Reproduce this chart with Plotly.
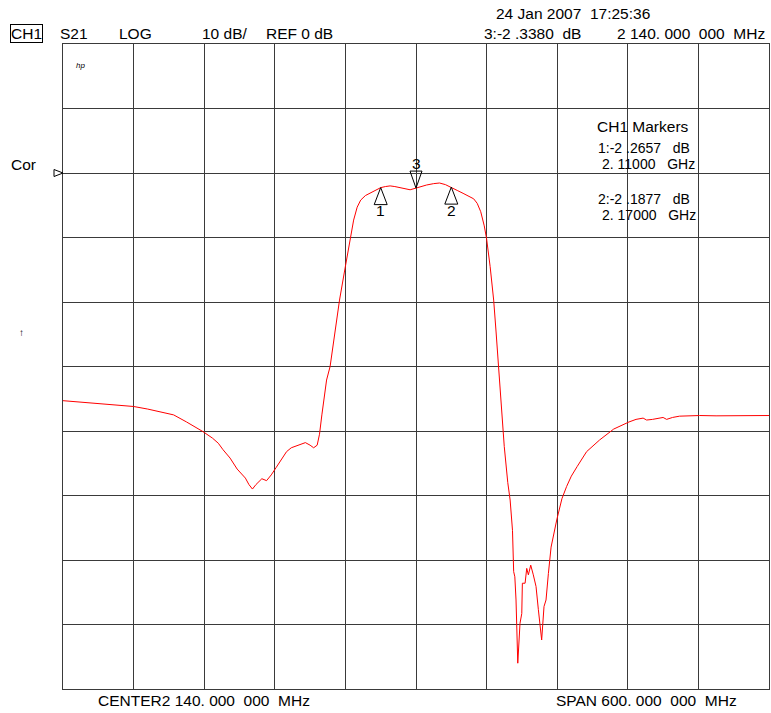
import plotly.graph_objects as go

# ---- data ----
freq_mhz = [1840, 1855, 1871, 1885, 1900, 1912, 1922, 1934, 1945, 1952, 1959, 1967, 1972, 1976,
            1982, 1988, 1995, 1998, 2001, 2004, 2009, 2013, 2017, 2021, 2026, 2030, 2034, 2039,
            2046, 2050, 2053, 2056, 2058, 2060, 2064, 2067, 2071, 2075, 2079, 2081, 2084, 2087,
            2090, 2093, 2097, 2101, 2105, 2110, 2114, 2118, 2122, 2126, 2131, 2135, 2140, 2145,
            2149, 2155, 2160, 2165, 2170, 2175, 2180, 2185, 2189, 2192, 2195, 2198, 2200, 2203,
            2206, 2208, 2210, 2212, 2215, 2218, 2220, 2222, 2223, 2224, 2225, 2226.5, 2228.4,
            2229.9, 2230.4, 2232.7, 2234.1, 2235.5, 2237.5, 2239.7, 2242, 2244, 2246.8, 2248.8,
            2250.5, 2252.5, 2254.8, 2259.6, 2262.4, 2264, 2268, 2272, 2277, 2285, 2296, 2308,
            2321, 2327, 2333, 2336, 2341, 2350, 2353, 2358, 2364, 2372, 2381, 2395, 2410, 2425, 2440]
s21_db = [-35.3, -35.5, -35.7, -35.9, -36.2, -36.6, -37.0, -37.5, -38.6, -39.3, -40.1, -41.1, -41.9, -42.9,
          -44.2, -45.9, -47.3, -48.3, -49.0, -48.3, -47.4, -47.7, -46.8, -45.7, -44.4, -43.2, -42.6, -42.3,
          -41.8, -42.2, -42.6, -42.2, -40.5, -37.5, -32.1, -30.0, -24.8, -19.7, -15.5, -13.5, -10.4, -7.3,
          -5.3, -4.2, -3.5, -3.1, -2.7, -2.27, -2.1, -2.0, -2.1, -2.25, -2.5, -2.6, -2.34, -2.05,
          -1.86, -1.65, -1.55, -1.8, -2.19, -2.7, -3.15, -3.6, -4.0, -4.7, -6.0, -8.2, -10.2, -14.5,
          -19.7, -24.5, -30.0, -34.0, -42.4, -48.0, -50.7, -55.4, -61.8, -62.6, -66.2, -76.0, -69.8,
          -68.3, -63.6, -63.6, -61.3, -62.3, -60.8, -62.3, -64.1, -67.7, -72.4, -67.2,
          -66.2, -62.1, -58.0, -53.8, -51.5, -50.5, -48.6, -47.0, -45.5, -43.2, -41.4, -39.7,
          -38.6, -38.2, -38.0, -38.3, -38.2, -37.9, -38.2, -37.9, -37.7, -37.6, -37.6, -37.65, -37.6, -37.6, -37.6]

marker_ids = ["1", "2", "3"]
marker_freq = [2110, 2170, 2140]
marker_db = [-2.2657, -2.1877, -2.3380]

center_mhz = 2140
span_mhz = 600
ref_db = 0
db_per_div = 10
ref_div_from_top = 2

x_min = center_mhz - span_mhz / 2
x_max = center_mhz + span_mhz / 2
y_max = ref_db + ref_div_from_top * db_per_div
y_min = y_max - 10 * db_per_div

W, H = 771, 713
L, R, T, B = 63, 2, 44, 24
PW, PH = W - L - R, H - T - B


def px(x):
    return (x - L) / PW


def py(y):
    return (H - B - y) / PH


FONT = "Liberation Sans, Arial, sans-serif"
FS = 15.5

fig = go.Figure()
fig.add_trace(go.Scatter(x=freq_mhz, y=s21_db, mode="lines",
                         line=dict(color="#ff0000", width=1), hoverinfo="skip"))

grid = dict(showgrid=True, gridcolor="#3a3a3a", gridwidth=1.4, zeroline=False,
            showticklabels=False, ticks="", showline=True, linecolor="#3a3a3a",
            linewidth=1.4, mirror=True)
fig.update_xaxes(range=[x_min, x_max], dtick=span_mhz / 10, tick0=x_min, **grid)
fig.update_yaxes(range=[y_min, y_max], dtick=db_per_div, tick0=y_min, **grid)

shapes = []
ann = []
# marker triangles
for mid, f, d in zip(marker_ids, marker_freq, marker_db):
    if mid == "3":
        path = "M 0,0 L -6,17 L 6,17 Z"
        ysh = 25
    else:
        path = "M 0,0 L -6.5,-17 L 6.5,-17 Z"
        ysh = -23
    shapes.append(dict(type="path", xref="x", yref="y", xsizemode="pixel", ysizemode="pixel",
                       xanchor=f, yanchor=d, path=path, line=dict(color="black", width=1),
                       fillcolor="rgba(0,0,0,0)"))
    ann.append(dict(x=f, y=d, xref="x", yref="y", text=mid, showarrow=False, yshift=ysh,
                    font=dict(size=FS, color="black", family=FONT)))

# reference level triangle on left edge
shapes.append(dict(type="path", xref="paper", yref="y", xsizemode="pixel", ysizemode="pixel",
                   xanchor=0, yanchor=ref_db, path="M -9,3.5 L 0,0 L -9,-3.5 Z",
                   line=dict(color="black", width=1), fillcolor="rgba(0,0,0,0)"))


def txt(x, y, s, size=FS, anchor="left", **kw):
    ann.append(dict(x=px(x), y=py(y), xref="paper", yref="paper", text=s, showarrow=False,
                    xanchor=anchor, yanchor="middle",
                    font=dict(size=size, color="black", family=FONT), **kw))


nb = "\u00a0"
txt(10, 34, "CH1", bordercolor="black", borderwidth=1, borderpad=0)
txt(58, 34, "S21")
txt(117, 34, "LOG")
txt(200, 34, "10 dB/")
txt(264, 34, "REF 0 dB")
txt(494, 14, "24 Jan 2007" + nb * 2 + "17:25:36")
txt(482, 34, "3:-2" + nb + ".3380" + nb * 2 + "dB")
txt(767, 34, "2 140." + nb + "000" + nb * 2 + "000" + nb * 2 + "MHz", anchor="right")
txt(9, 164, "Cor")
txt(21, 333, "\u2191", size=10, anchor="center")
txt(74, 65, "<i>hp</i>", size=8)
txt(595, 126, "CH1 Markers")
MS = 14
txt(596, 148, "1:-2" + nb + ".2657" + nb * 3 + "dB", size=MS)
txt(600, 164, "2." + nb + "11000" + nb * 3 + "GHz", size=MS)
txt(596, 199, "2:-2" + nb + ".1877" + nb * 3 + "dB", size=MS)
txt(600, 215, "2." + nb + "17000" + nb * 3 + "GHz", size=MS)
txt(96, 700, "CENTER2 140." + nb + "000" + nb * 2 + "000" + nb * 2 + "MHz")
txt(554, 700, "SPAN 600." + nb + "000" + nb * 2 + "000" + nb * 2 + "MHz")

fig.update_layout(width=W, height=H, margin=dict(l=L, r=R, t=T, b=B),
                  paper_bgcolor="white", plot_bgcolor="white", showlegend=False,
                  shapes=shapes, annotations=ann, font=dict(family=FONT))

fig.write_html("out.html", config={"displayModeBar": False},
               post_script="document.body.style.margin='0';document.body.style.overflow='hidden';")
